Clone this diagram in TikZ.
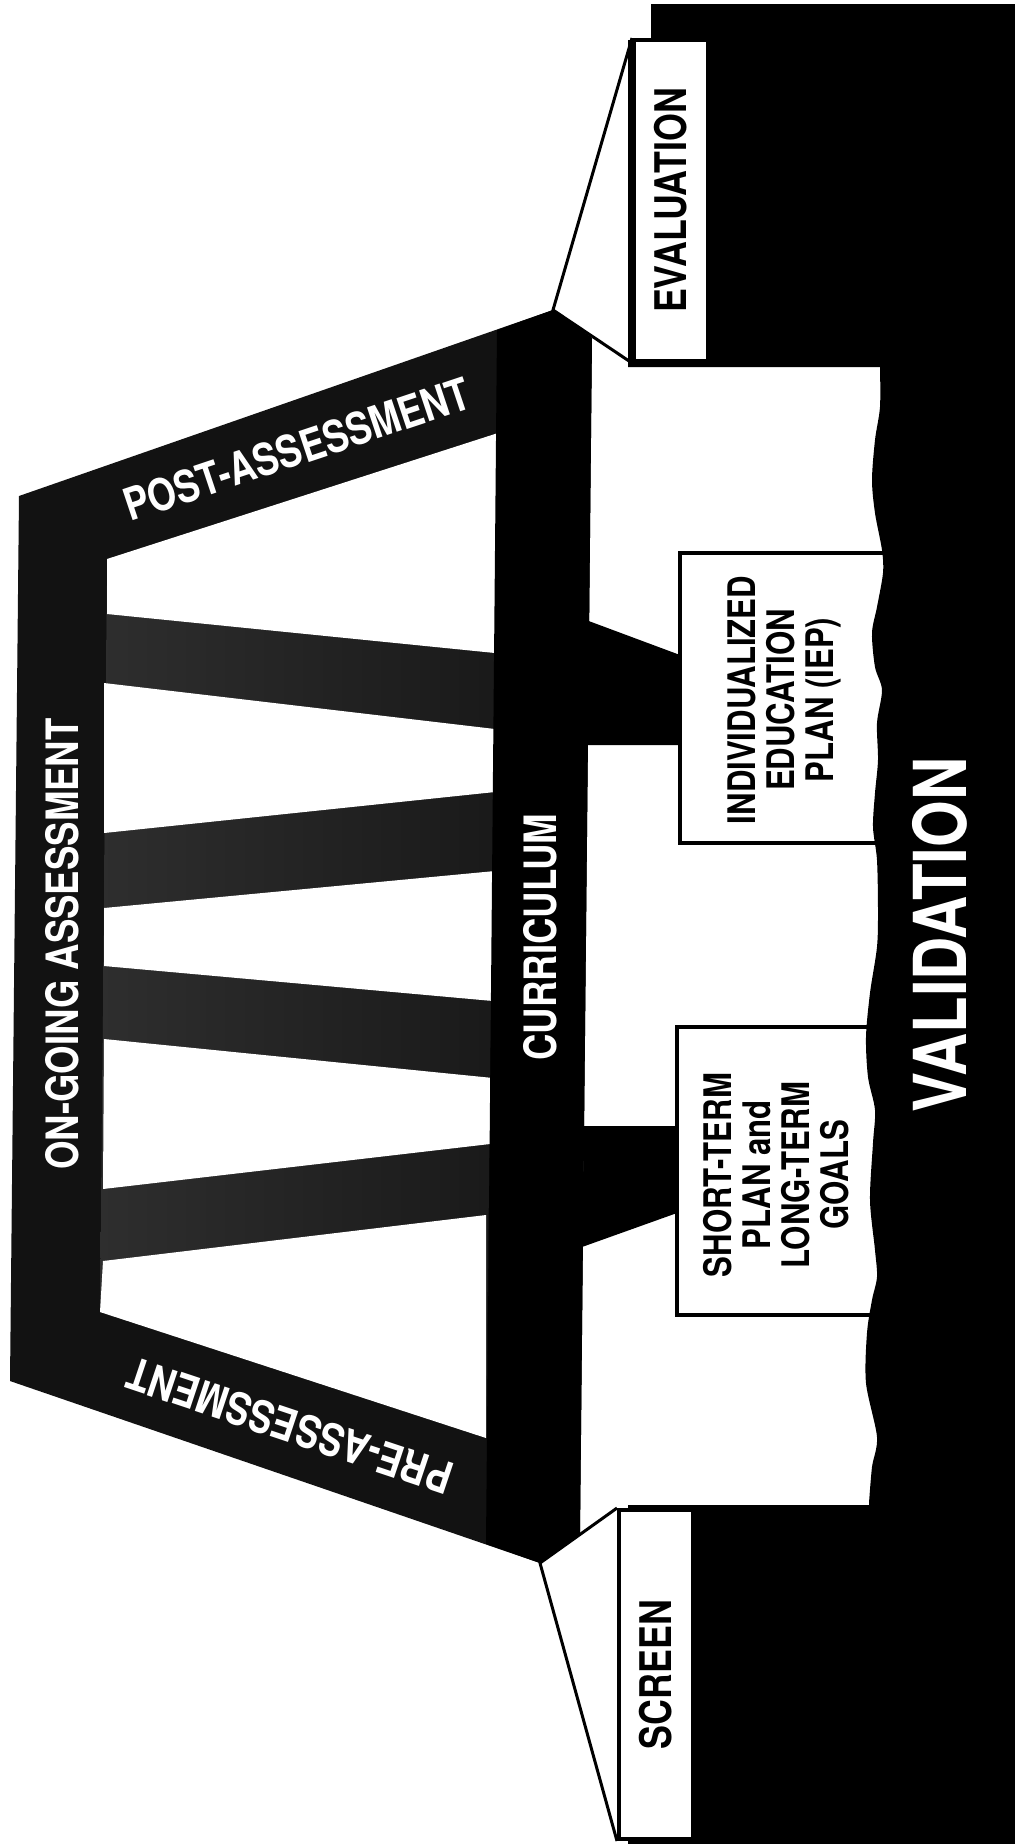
\documentclass[tikz,border=0pt]{standalone}
\usepackage{fontspec}
\newfontfamily\boardfont[FakeStretch=0.82]{TeX Gyre Heros}
\usetikzlibrary{calc}

\tikzset{
  framefill/.style={fill=black!93},
  barfill/.style={left color=black!82, right color=black!90},
  window/.style={fill=white},
  solid/.style={fill=black},
  box/.style={draw=black, fill=white, line width=2pt, inner sep=0pt},
  boxline/.style={draw=black, line width=2.2pt},
  link/.style={draw=black, line width=1.5pt, line join=miter},
  frametext/.style={text=white, inner sep=0pt, font=\boardfont\bfseries\fontsize{22.3}{24}\selectfont},
  validtext/.style={text=white, inner sep=0pt, font=\boardfont\bfseries\fontsize{36.5}{40}\selectfont},
  boxtext/.style={text=black, inner sep=0pt, font=\boardfont\bfseries\fontsize{21.8}{24}\selectfont},
  plantext/.style={text=black, inner sep=0pt, align=center, font=\boardfont\bfseries\fontsize{19}{19.5}\selectfont},
}

\begin{document}
\begin{tikzpicture}[x=0.5pt, y=-0.5pt]
\useasboundingbox (0,0) rectangle (1015,1844);

% ground
\fill[solid] (651,4) -- (1015,4) -- (1015,1844) -- (628,1844) -- (628,1505) -- (869,1505)
  -- plot[smooth] coordinates {(869,1503) (872,1467) (877,1437) (866,1383) (867,1333)
     (872,1300) (877,1277) (875,1250) (870,1200) (873,1143) (875,1110) (868,1077)
     (866,1037) (870,993) (877,947) (878,910) (877,860) (873,827) (875,793) (878,760)
     (877,723) (882,690) (875,667) (872,633) (877,607) (883,573) (882,550) (875,513)
     (872,480) (875,440) (880,407) (880,367)}
  -- (628,367) -- (628,40) -- (651,40) -- cycle;

% assessment frame
\fill[framefill] (19,496) -- (553,310) -- (592,338) -- (580,1534) -- (540,1563) -- (10,1381) -- cycle;
\fill[barfill] (107,559) -- (498,433) -- (486,1438) -- (100,1312) -- cycle;
\fill[window] (107,559) -- (498,433) -- (495,653) -- (107,614) -- cycle;
\fill[window] (104,683) -- (495,729) -- (495,792) -- (104,833) -- cycle;
\fill[window] (104,908) -- (495,871) -- (493,1001) -- (104,966) -- cycle;
\fill[window] (104,1039) -- (493,1078) -- (490,1144) -- (103,1189) -- cycle;
\fill[window] (103,1261) -- (486,1215) -- (486,1438) -- (100,1312) -- cycle;

% curriculum
\fill[solid] (497,330) -- (553,310) -- (592,338) -- (580,1534) -- (540,1563) -- (486,1544) -- cycle;
\fill[solid] (586,620) -- (680,655) -- (680,745) -- (586,745) -- cycle;
\fill[solid] (584,1126) -- (677,1126) -- (677,1213) -- (582,1247) -- cycle;

\coordinate (topapex) at (553,310);
\coordinate (botapex) at (540,1563);

% end boxes
\node[box, minimum width=37pt, minimum height=160.5pt] (evalbox) at (671,200.5) {};
\node[box, minimum width=37pt, minimum height=164.5pt] (screenbox) at (656,1674.5) {};
\draw[link] (evalbox.north west) -- (topapex) -- (evalbox.south west);
\draw[link] (screenbox.north west) -- (botapex) -- (screenbox.south west);

% plan boxes
\draw[boxline] (890,553) -- (680,553) -- (680,843) -- (890,843);
\draw[boxline] (890,1027) -- (677,1027) -- (677,1315) -- (890,1315);

% labels
\node[frametext, rotate=90] (ongoing) at (62,944) {ON-GOING ASSESSMENT};
\node[frametext, rotate=90] (curric) at (540,937) {CURRICULUM};
\node[frametext, rotate=18.5] (post) at (297,449) {POST-ASSESSMENT};
\node[frametext, rotate=161.5] (pre) at (290,1426) {PRE-ASSESSMENT};
\node[validtext, rotate=90] (valid) at (940,935) {VALIDATION};
\node[boxtext, rotate=90] (evaltext) at (evalbox) {EVALUATION};
\node[boxtext, rotate=90] (screentext) at (screenbox) {SCREEN};
\node[plantext, rotate=90] (ieptext) at (784,700) {INDIVIDUALIZED\\EDUCATION\\PLAN (IEP)};
\node[plantext, rotate=90] (goaltext) at (776,1175) {SHORT-TERM\\PLAN and\\LONG-TERM\\GOALS};
\end{tikzpicture}
\end{document}
